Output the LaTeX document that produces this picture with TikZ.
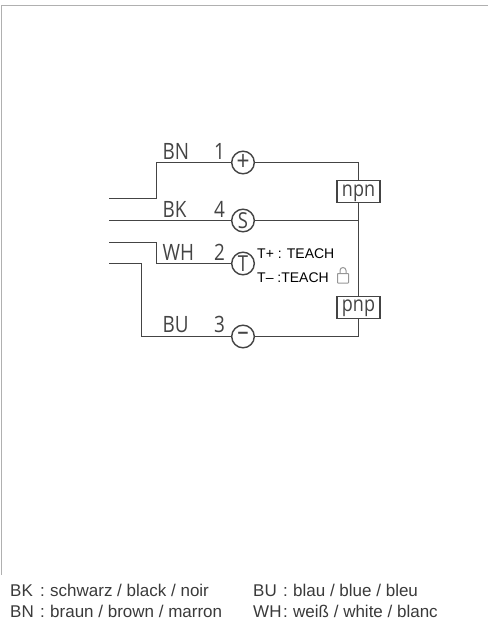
\documentclass[tikz,border=0pt]{standalone}
\usepackage{fontspec}
\setmainfont{Liberation Sans}
\newfontfamily\wireFont[FakeStretch=0.84]{Open Sans}
\usepackage{xcolor}
\usetikzlibrary{calc}
\definecolor{wireGray}{HTML}{444444}
\definecolor{frameGray}{HTML}{B0B0B0}
\definecolor{textGray}{HTML}{3A3A3A}
\def\pinRad{11.3pt}
\def\lineThickness{(1.4pt)}
\tikzset{wire/.style={wireGray,line width=\lineThickness}}
\tikzset{pin/.style={draw=wireGray,line width=\lineThickness,fill=white,circle,minimum size=2*\pinRad,inner sep=0,text=wireGray,font=\wireFont\fontsize{22}{22}\selectfont}}
\tikzset{sign/.style={pin,font=\wireFont\fontsize{27}{27}\selectfont}}
\tikzset{tag/.style={draw=wireGray,line width=\lineThickness,fill=white,minimum width=43pt,minimum height=22pt,inner sep=0,text height=12.6pt,text depth=4pt,text=wireGray,font=\wireFont\fontsize{21.4}{22}\selectfont}}
\tikzset{lab/.style={anchor=base west,inner sep=0,text=wireGray,font=\wireFont\fontsize{22.5}{23}\selectfont}}
\tikzset{teach/.style={anchor=base west,inner sep=0,text=black,font=\fontsize{14}{14}\selectfont}}
\tikzset{key/.style={anchor=base west,inner sep=0,text=textGray,font=\fontsize{17}{17}\selectfont}}
\tikzset{lock/.style={frameGray!85!black,line width=1pt}}
\begin{document}
\begin{tikzpicture}[x=1pt,y=-1pt]\useasboundingbox (0,0) rectangle (488,624);
\coordinate(f1) at (1.5,575);\coordinate(f2) at (1.5,5.5);\coordinate(f3) at (488,5.5);
\draw[frameGray,line width=1.4pt](f1)--(f2)--(f3);
% pins
\node[sign] (p1) at (243,162.5) {+};
\node[pin] (p4) at (243,220.5) {S};
\node[pin] (p2) at (243,263.5) {T};
\node[sign] (p3) at (243,336.5) {–};
% left ends
\coordinate(a1) at (109,198.5);\coordinate(a4) at (109,220.5);\coordinate(a2) at (109,242.5);\coordinate(a3) at (109,263.5);
\coordinate(k1) at (156.5,198.5);\coordinate(k2) at (156.5,242.5);\coordinate(k3) at (141.5,263.5);
\coordinate(r1) at (358.5,162.5);\coordinate(r4) at (358.5,220.5);\coordinate(r3) at (358.5,336.5);
\draw[wire](a1)--(k1)|-(p1);\draw[wire](a4)--(p4);\draw[wire](a2)--(k2)|-(p2);\draw[wire](a3)--(k3)|-(p3);
\draw[wire](p1)--(r1)--(r3)--(p3);\draw[wire](p4)--(r4);
\node[tag] (npn) at (358.5,191.7) {npn};
\node[tag] (pnp) at (358.5,307.2) {pnp};
% colour and pin labels
\foreach\n/\w/\d/\y in {1/BN/1/159,4/BK/4/217.3,2/WH/2/260.7,3/BU/3/332.7}{\node[lab] (w\n) at (162.5,\y) {\w};\node[lab] (d\n) at (214,\y) {\d};};
\node[teach] (t1) at (257,258.3) {T+ : TEACH};
\node[teach] (t2) at (257,282.3) {T– :TEACH};
% lock
\draw[lock,rounded corners=0.5pt](337.5,273.5) rectangle (348.5,283);
\draw[lock](340,273.5)--(340,270.5) arc[start angle=180,end angle=0,radius=3pt]--(346,273.5);
% legend
\node[key] (k1a) at (10,596) {BK};\node[key] (k1b) at (40,596) {:};\node[key] (k1c) at (50,596) {schwarz / black / noir};
\node[key] (k2a) at (10,617) {BN};\node[key] (k2b) at (40,617) {:};\node[key] (k2c) at (50,617) {braun / brown / marron};
\node[key] (k3a) at (253,596) {BU};\node[key] (k3b) at (283,596) {:};\node[key] (k3c) at (293,596) {blau / blue / bleu};
\node[key] (k4a) at (253,617) {WH};\node[key] (k4b) at (283,617) {:};\node[key] (k4c) at (293,617) {weiß / white / blanc};
\end{tikzpicture}
\end{document}
